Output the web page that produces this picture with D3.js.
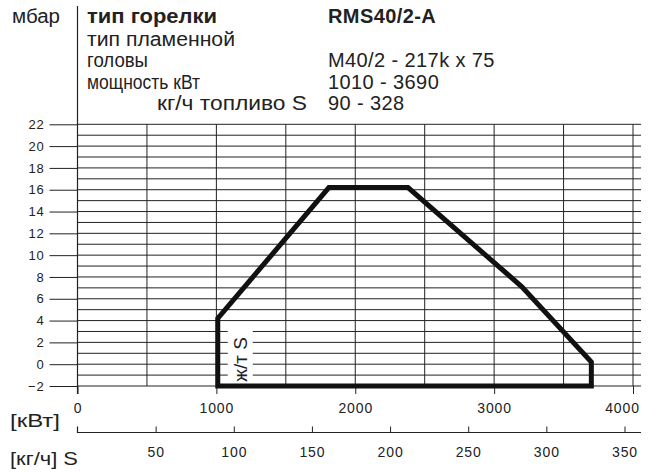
<!DOCTYPE html>
<html>
<head>
<meta charset="utf-8">
<script src="https://cdn.jsdelivr.net/npm/d3@7"></script>
<style>
  html, body { margin: 0; padding: 0; background: #fff; }
  svg { display: block; }
  text { font-family: "Liberation Sans", Arial, sans-serif; fill: #222; }
</style>
</head>
<body>
<svg id="chart" width="650" height="472"></svg>
<script>
// ---- data ----
const headerLeft = ["тип горелки", "тип пламенной", "головы", "мощность кВт", "кг/ч топливо S"];
const headerRight = ["RMS40/2-A", "", "M40/2 - 217k x 75", "1010 - 3690", "90 - 328"];
const yTicks = [-2, 0, 2, 4, 6, 8, 10, 12, 14, 16, 18, 20, 22];
const kwTicks = [0, 1000, 2000, 3000, 4000];
const kghTicks = [50, 100, 150, 200, 250, 300, 350];
const rangeKW   = [1010, 1010, 1810, 2380, 3200, 3700, 3700];
const rangeMbar = [-2, 4.2, 16.2, 16.2, 7.1, 0.2, -2];
const fuelLabel = "ж/т S";

// ---- scales ----
const svg = d3.select("#chart");
const x = d3.scaleLinear().domain([0, 4000]).range([77.5, 633]);
const y = d3.scaleLinear().domain([-2, 22]).range([386, 124.3]);
const xk = d3.scaleLinear().domain([0, 350]).range([77.5, 624.5]);
const gridRight = 641;
const ink = "#222";
const hdrFont = "20px";

// header layout (widths fitted to the reference lettering)
const leftX = [87, 87, 87, 87, 157];
const leftW = [130, 148, 61, 113, 150];
const rowsY = [23, 45.5, 67, 88.5, 109.5];

svg.append("text").attr("x", 12).attr("y", 23).style("font-size", hdrFont)
  .attr("textLength", 48).attr("lengthAdjust", "spacingAndGlyphs").text("мбар");
headerLeft.forEach((t, i) => {
  svg.append("text")
    .attr("x", leftX[i])
    .attr("y", rowsY[i])
    .style("font-size", hdrFont)
    .style("font-weight", i === 0 ? "bold" : "normal")
    .attr("textLength", leftW[i]).attr("lengthAdjust", "spacingAndGlyphs")
    .text(t);
});
headerRight.forEach((t, i) => {
  if (!t) return;
  svg.append("text")
    .attr("x", 328)
    .attr("y", rowsY[i])
    .style("font-size", hdrFont)
    .style("letter-spacing", "0.4px")
    .style("font-weight", i === 0 ? "bold" : "normal")
    .text(t);
});

// grid
const g = svg.append("g").attr("stroke", ink).attr("stroke-width", 1);
g.selectAll("line.h").data(d3.range(-2, 23)).join("line")
  .attr("class", "h")
  .attr("x1", x(0)).attr("x2", gridRight)
  .attr("y1", d => y(d)).attr("y2", d => y(d));
g.selectAll("line.v").data(d3.range(500, 4001, 500)).join("line")
  .attr("class", "v")
  .attr("x1", d => x(d)).attr("x2", d => x(d))
  .attr("y1", y(22)).attr("y2", y(-2));

// y axis
const yAxis = svg.append("g").attr("transform", `translate(${x(0)},0)`)
  .call(d3.axisLeft(y).tickValues(yTicks).tickSize(28).tickPadding(5));
yAxis.select(".domain").remove();
yAxis.selectAll("line").attr("stroke", ink);
yAxis.selectAll("text").style("font-size", "13px").style("letter-spacing", "0.8px").attr("fill", ink);
svg.append("line").attr("x1", x(0)).attr("x2", x(0)).attr("y1", 6).attr("y2", 394)
  .attr("stroke", ink).attr("stroke-width", 1.2);

// kW axis
const xAxis = svg.append("g").attr("transform", `translate(0,${y(-2)})`)
  .call(d3.axisBottom(x).tickValues(kwTicks).tickSize(8).tickPadding(9).tickFormat(d3.format("d")));
xAxis.select(".domain").remove();
xAxis.selectAll("line").attr("stroke", ink);
xAxis.selectAll("text").style("font-size", "14px").style("letter-spacing", "0.9px").attr("fill", ink)
  .attr("dx", d => d === 4000 ? -11 : 0);
svg.append("text").attr("x", 10).attr("y", 427).style("font-size", "19px")
  .attr("textLength", 50).attr("lengthAdjust", "spacingAndGlyphs").text("[кВт]");

// kg/h axis
const kAxisY = 432.5;
const kAxis = svg.append("g").attr("transform", `translate(0,${kAxisY})`)
  .call(d3.axisBottom(xk).tickValues(kghTicks).tickSizeInner(-6).tickSizeOuter(0).tickPadding(15).tickFormat(d3.format("d")));
kAxis.select(".domain").remove();
kAxis.selectAll("line").attr("stroke", ink);
kAxis.selectAll("text").style("font-size", "14px").style("letter-spacing", "0.9px").attr("fill", ink);
svg.append("path")
  .attr("d", `M${xk(0)},${kAxisY - 6}V${kAxisY}H${gridRight}`)
  .attr("fill", "none").attr("stroke", ink).attr("stroke-width", 1.2);
svg.append("text").attr("x", 10).attr("y", 465).style("font-size", "19px")
  .attr("textLength", 68).attr("lengthAdjust", "spacingAndGlyphs").text("[кг/ч] S");

// label with white background
const lx = x(1010) + 10, lw = 25;
svg.append("rect").attr("x", lx).attr("y", y(3.6)).attr("width", lw).attr("height", y(-1.8) - y(3.6))
  .attr("fill", "#fff");
svg.append("text")
  .attr("transform", `translate(${lx + 19},${y(-1.6)}) rotate(-90)`)
  .style("font-size", "19px")
  .text(fuelLabel);

// working range polygon
const pts = rangeKW.map((k, i) => [x(k), y(rangeMbar[i])]);
svg.append("path")
  .attr("d", d3.line()(pts) + "Z")
  .attr("fill", "none").attr("stroke", "#111").attr("stroke-width", 5)
  .attr("stroke-linejoin", "miter");
</script>
</body>
</html>
